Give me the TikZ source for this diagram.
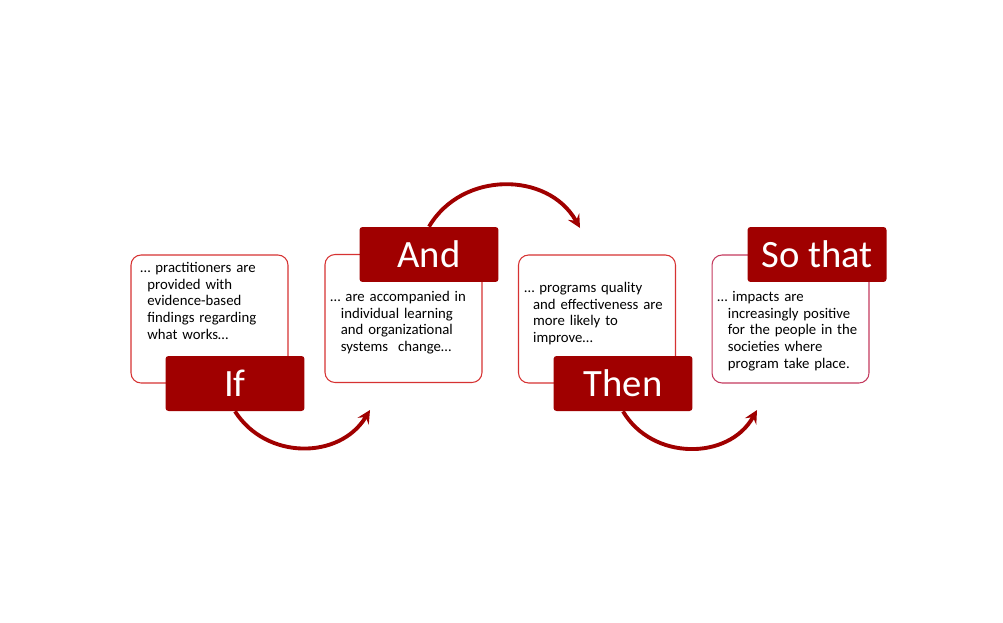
\documentclass[tikz,border=0pt]{standalone}
\usepackage{xcolor}
\usepackage{fontspec}
\setmainfont{Carlito}
\usepackage{tikz}

\definecolor{darkred}{RGB}{160,0,0}
\definecolor{cardline}{RGB}{214,50,50}
\definecolor{lastline}{RGB}{196,58,94}

% first line sticks out to the left
\newcommand{\hangstart}[1]{\leftskip=#1\relax\hspace*{-#1}}

\tikzset{
  card/.style={draw=cardline, line width=0.6pt, rounded corners=0.2cm, fill=white,
    minimum width=3.14cm, minimum height=2.56cm},
  note/.style={anchor=north west, inner sep=0pt, align=left, text width=3.3cm,
    font=\fontsize{8.4}{9.5}\selectfont},
  tag/.style={fill=darkred, rounded corners=0.06cm, text=white,
    minimum width=2.78cm, minimum height=1.1cm, inner sep=0pt,
    font=\fontsize{22}{26}\selectfont},
  flow/.style={draw=darkred, line width=2.2pt, -stealth, looseness=1.1}
}

\begin{document}
\begin{tikzpicture}[x=0.02cm, y=-0.02cm]
  \useasboundingbox (0,0) rectangle (1003,622);

  \node[card] (box1) at (209.5,319) {};
  \node[card] (box2) at (403.5,318.5) {};
  \node[card] (box3) at (597,319) {};
  \node[card, draw=lastline] (box4) at (790.5,319) {};

  \node[note] (txt1) at (140,262) {\hangstart{4pt}\dots{} practitioners are\\ provided with\\ evidence-based\\ findings regarding\\ what works\dots\par};
  \node[note] (txt2) at (330,291) {\hangstart{6pt}\dots{} are accompanied in\\ individual learning\\ and organizational\\ systems\ \ change\dots\par};
  \node[note] (txt3) at (524,282) {\hangstart{5pt}\dots{} programs quality\\ and effectiveness are\\ more likely to\\ improve\dots\par};
  \node[note] (txt4) at (717,291) {\hangstart{6pt}\dots{} impacts are\\ increasingly positive\\ for the people in the\\ societies where\\ program take place.\par};

  \node[tag] (if) at (235,383.5) {If};
  \node[tag] (and) at (429,254.5) {And};
  \node[tag] (then) at (623,383.5) {Then};
  \node[tag] (sothat) at (817,254.5) {So that};

  % free ends of the arcs
  \coordinate (end1) at (370,410);
  \coordinate (end2) at (580,228);
  \coordinate (end3) at (757,410);

  \draw[flow] (if.south) to[bend right=58] (end1);
  \draw[flow] (and.north) to[bend left=60] (end2);
  \draw[flow] (then.south) to[bend right=60] (end3);
\end{tikzpicture}
\end{document}
